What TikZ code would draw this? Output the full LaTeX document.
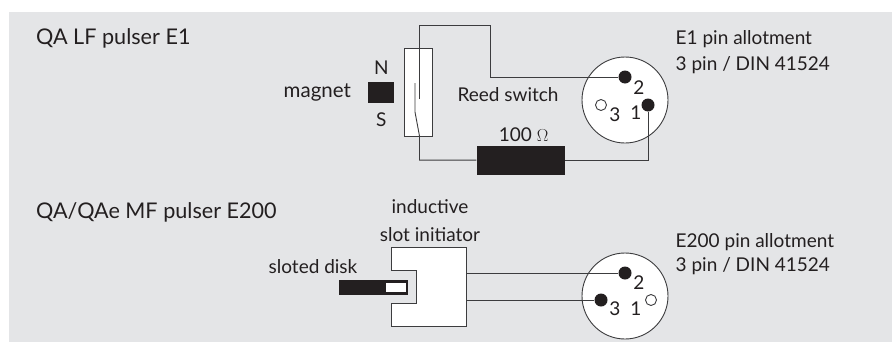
\documentclass[tikz,border=0pt]{standalone}
\usepackage{fontspec}
\setmainfont{Lato}
\usetikzlibrary{positioning}
\definecolor{panelgrey}{HTML}{E4E5E7}
\definecolor{ink}{HTML}{231F20}
\definecolor{wiregrey}{HTML}{3C3C3E}
\tikzset{
    wire/.style={draw=wiregrey, line width=0.9pt},
    outline/.style={rectangle, draw=wiregrey, line width=0.9pt, fill=white, inner sep=0pt},
    solid block/.style={rectangle, fill=ink, inner sep=0pt},
    label/.style={text=ink, inner sep=0pt, font=\fontsize{19}{21}\selectfont},
    title/.style={label, anchor=base west, font=\fontsize{21.6}{24}\selectfont},
    socket/.style={circle, draw=wiregrey, line width=0.9pt, fill=white, minimum size=86pt, inner sep=0pt},
    pin on/.style={circle, fill=ink, minimum size=13pt, inner sep=0pt},
    pin off/.style={circle, draw=wiregrey, line width=0.9pt, fill=white, minimum size=11pt, inner sep=0pt}
}

\begin{document}
\begin{tikzpicture}[x=1pt, y=-1pt]
    \useasboundingbox (0,0) rectangle (892,343);
    \fill[panelgrey] (9,12) rectangle (892,342);

    % Titles
    \node (titleone) [title] at (36,44.3) {QA LF pulser E1};
    \node (titletwo) [title] at (36,218.3) {QA/QAe MF pulser E200};

    % Upper circuit
    \node (reed) [outline, minimum width=28pt, minimum height=88pt] at (418.5,92) {};
    \node (magnet) [solid block, minimum width=26pt, minimum height=21pt, left=9.5pt of reed] {};
    \node (north) [label, above=7pt of magnet] {N};
    \node (south) [label, below=10pt of magnet] {S};
    \node (magnetlabel) [label, left=17pt of magnet, font=\fontsize{20.5}{22}\selectfont] {magnet};
    \node (reedlabel) [label] at ([shift={(89.5,3)}]reed.center) {Reed switch};
    \node (resistor) [solid block, minimum width=88pt, minimum height=29pt, below right=9pt and 43.5pt of reed.south east] {};
    \node (ohm) [label, above=4pt of resistor, xshift=3pt] {100 $\Omega$};

    \node (socketone) [socket] at (625,100) {};
    \node (pintwoA) [pin on] at ([shift={(0,-23)}]socketone.center) {};
    \node (pinoneA) [pin on] at ([shift={(23,5)}]socketone.center) {};
    \node (pinthreeA) [pin off] at ([shift={(-24,5)}]socketone.center) {};
    \node (numtwoA) [label] at ([shift={(14,-12)}]socketone.center) {2};
    \node (numoneA) [label] at ([shift={(11,13)}]socketone.center) {1};
    \node (numthreeA) [label] at ([shift={(-10,15)}]socketone.center) {3};
    \node (allotone) [label, anchor=base west] at (675.5,44.3) {E1 pin allotment};
    \node (dinone) [label, anchor=base west] at (675.5,70) {3 pin / DIN 41524};

    % Switch contacts
    \coordinate (contact) at ([shift={(1,7)}]reed.center);
    \coordinate (armtop) at ([shift={(-3.5,-9)}]reed.center);
    \coordinate (armknee) at ([shift={(-3.5,20)}]reed.center);
    \coordinate (armfoot) at ([shift={(1,44)}]reed.center);
    \coordinate (bendtop) at (490,25);

    % Upper connections
    \draw[wire] (contact) |- (bendtop) |- (pintwoA);
    \draw[wire] (armtop) -- (armknee) -- (armfoot) |- (resistor.west);
    \draw[wire] (resistor.east) -| (pinoneA);

    % Lower circuit
    \node (initiator) [minimum width=75pt, minimum height=78.3pt, inner sep=0pt] at (429.2,286.7) {};
    \draw[wire, fill=white] (initiator.north west) -- (initiator.north east) -- (initiator.south east) -- (initiator.south west)
        -- ++(0,-22.7) -- ++(25,0) -- ++(0,-33) -- ++(-25,0) -- cycle;
    \node (disk) [solid block, minimum width=69pt, minimum height=15pt] at (373.3,287.2) {};
    \node (diskslot) [rectangle, fill=white, inner sep=0pt, minimum width=19.7pt, minimum height=9.3pt, left=2pt of disk.east] {};
    \node (inductive) [label] at (430,207) {inductive};
    \node (slotlabel) [label, below=13pt of inductive] {slot initiator};
    \node (disklabel) [label] at (313,266.5) {sloted disk};

    \node (sockettwo) [socket] at (625,296) {};
    \node (pintwoB) [pin on] at ([shift={(0,-23)}]sockettwo.center) {};
    \node (pinthreeB) [pin on] at ([shift={(-24,4)}]sockettwo.center) {};
    \node (pinoneB) [pin off] at ([shift={(26,4)}]sockettwo.center) {};
    \node (numtwoB) [label] at ([shift={(14,-13)}]sockettwo.center) {2};
    \node (numthreeB) [label] at ([shift={(-10,13)}]sockettwo.center) {3};
    \node (numoneB) [label] at ([shift={(11,13)}]sockettwo.center) {1};
    \node (allottwo) [label, anchor=base west] at (675.5,247.3) {E200 pin allotment};
    \node (dintwo) [label, anchor=base west] at (675.5,271.7) {3 pin / DIN 41524};

    % Lower connections
    \draw[wire] (initiator.east |- pintwoB) -- (pintwoB);
    \draw[wire] (initiator.east |- pinthreeB) -- (pinthreeB);
\end{tikzpicture}
\end{document}
